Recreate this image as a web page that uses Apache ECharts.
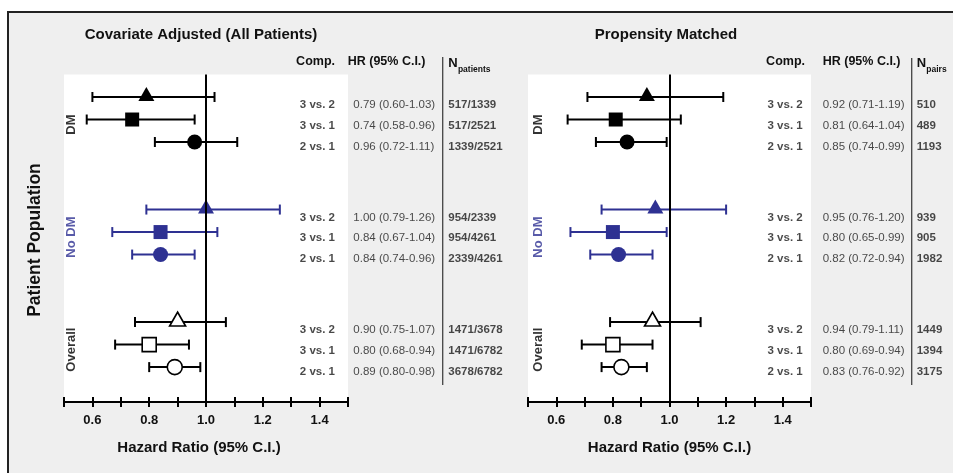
<!DOCTYPE html>
<html><head><meta charset="utf-8">
<script src="https://cdn.jsdelivr.net/npm/echarts@6/dist/echarts.min.js"></script>
<style>html,body{margin:0;padding:0;background:#fff}#c{width:953px;height:473px}</style>
</head><body><div id="c"></div>
<script>
// ---------------- data ----------------
const groups = ['DM', 'No DM', 'Overall'];
const comps = ['3 vs. 2', '3 vs. 1', '2 vs. 1'];
const xTickLabels = [0.6, 0.8, 1.0, 1.2, 1.4];

// Covariate Adjusted (All Patients): [HR, lower, upper] as plotted
const adjDM      = [[0.79, 0.60, 1.03], [0.74, 0.58, 0.96], [0.96, 0.82, 1.11]];
const adjNoDM    = [[1.00, 0.79, 1.26], [0.84, 0.67, 1.04], [0.84, 0.74, 0.96]];
const adjOverall = [[0.90, 0.75, 1.07], [0.80, 0.68, 0.94], [0.89, 0.80, 0.98]];
const adjHRText = ['0.79 (0.60-1.03)', '0.74 (0.58-0.96)', '0.96 (0.72-1.11)',
                   '1.00 (0.79-1.26)', '0.84 (0.67-1.04)', '0.84 (0.74-0.96)',
                   '0.90 (0.75-1.07)', '0.80 (0.68-0.94)', '0.89 (0.80-0.98)'];
const adjN = ['517/1339', '517/2521', '1339/2521',
              '954/2339', '954/4261', '2339/4261',
              '1471/3678', '1471/6782', '3678/6782'];

// Propensity Matched
const pmDM      = [[0.92, 0.71, 1.19], [0.81, 0.64, 1.04], [0.85, 0.74, 0.99]];
const pmNoDM    = [[0.95, 0.76, 1.20], [0.80, 0.65, 0.99], [0.82, 0.72, 0.94]];
const pmOverall = [[0.94, 0.79, 1.11], [0.80, 0.69, 0.94], [0.83, 0.76, 0.92]];
const pmHRText = ['0.92 (0.71-1.19)', '0.81 (0.64-1.04)', '0.85 (0.74-0.99)',
                  '0.95 (0.76-1.20)', '0.80 (0.65-0.99)', '0.82 (0.72-0.94)',
                  '0.94 (0.79-1.11)', '0.80 (0.69-0.94)', '0.83 (0.76-0.92)'];
const pmN = ['510', '489', '1193', '939', '905', '1982', '1449', '1394', '3175'];

// ---------------- styling / layout ----------------
const FONT = 'Liberation Sans, Arial, sans-serif';
const BLUE = '#2E3192';
const BLACK = '#000';
const groupColors = [BLACK, BLUE, BLACK];
const groupOpen = [false, false, true];
const symbols = ['triangle', 'rect', 'circle'];
const symSizes = [[16, 14], [14, 14], [15, 15]];
const symOffsets = [[0, -3], [0, 0], [0, 0]];
const textDy = [8, 6, 4.5];

const panels = [
  { title: 'Covariate Adjusted (All Patients)', titleX: 201, left: 64, width: 284,
    data: [adjDM, adjNoDM, adjOverall], hr: adjHRText, n: adjN, nSub: 'patients',
    compDx: -13, hrDx: 5.3, nDx: 100.3, sepX: 442.7, sepTop: 57,
    hCompX: 335, hHRX: 347.7, hNX: 448.3, gDx: 7.7, nameShift: 14 },
  { title: 'Propensity Matched', titleX: 666, left: 528, width: 283,
    data: [pmDM, pmNoDM, pmOverall], hr: pmHRText, n: pmN, nSub: 'pairs',
    compDx: -8.3, hrDx: 11.7, nDx: 105.7, sepX: 911.7, sepTop: 58,
    hCompX: 805, hHRX: 822.7, hNX: 916.7, gDx: 10.3, nameShift: 0 }
];
const GTOP = 74.5, GHEIGHT = 327.5, YMAX = 14.55, XMIN = 0.5, XMAX = 1.5;
const rowOf = (g, c) => g * 5 + c + 1;

const grid = [], xAxis = [], yAxis = [], series = [], graphic = [];

graphic.push({ type: 'rect', z: -100, shape: { x: 8, y: 12, width: 1000, height: 500 },
  style: { fill: '#efefef', stroke: '#222', lineWidth: 2 } });
graphic.push({ type: 'text', x: 35, y: 240, rotation: Math.PI / 2,
  style: { text: 'Patient Population', font: 'bold 17.5px ' + FONT, fill: '#111', align: 'center', verticalAlign: 'middle' } });

panels.forEach((p, pi) => {
  grid.push({ left: p.left, top: GTOP, width: p.width, height: GHEIGHT, show: true,
    backgroundColor: '#fff', borderWidth: 0, containLabel: false });
  xAxis.push({ type: 'value', gridIndex: pi, min: XMIN, max: XMAX, interval: 0.1, position: 'bottom',
    axisLine: { show: true, onZero: false, lineStyle: { color: BLACK, width: 2 } },
    axisTick: { show: true, inside: false, length: 5, lineStyle: { color: BLACK, width: 2 } },
    axisLabel: { show: true, margin: 12, fontFamily: FONT, fontWeight: 'bold', fontSize: 13, color: '#111',
      formatter: v => xTickLabels.some(t => Math.abs(t - v) < 1e-6) ? v.toFixed(1) : '' },
    splitLine: { show: false },
    name: 'Hazard Ratio (95% C.I.)', nameLocation: 'middle', nameGap: 38,
    nameTextStyle: { fontFamily: FONT, fontWeight: 'bold', fontSize: 15, color: '#111',
      padding: [0, p.nameShift, 0, 0] } });
  xAxis.push({ type: 'value', gridIndex: pi, min: XMIN, max: XMAX, interval: 0.1, position: 'bottom',
    axisLine: { show: false, onZero: false },
    axisTick: { show: true, inside: true, length: 5, lineStyle: { color: BLACK, width: 2 } },
    axisLabel: { show: false }, splitLine: { show: false } });
  yAxis.push({ type: 'value', gridIndex: pi, min: 0, max: YMAX, inverse: true, show: false });

  const xi = pi * 2;

  // error bars + markers per group
  p.data.forEach((rows, g) => {
    const color = groupColors[g];
    series.push({
      type: 'custom', xAxisIndex: xi, yAxisIndex: pi, silent: true, z: 2,
      data: rows.map((r, c) => [r[1], r[2], rowOf(g, c)]),
      encode: { x: [0, 1], y: 2 },
      renderItem: (params, api) => {
        const y = api.value(2);
        const a = api.coord([api.value(0), y]);
        const b = api.coord([api.value(1), y]);
        const h = 5;
        const st = { stroke: color, lineWidth: 2 };
        return { type: 'group', children: [
          { type: 'line', shape: { x1: a[0], y1: a[1], x2: b[0], y2: b[1] }, style: st },
          { type: 'line', shape: { x1: a[0], y1: a[1] - h, x2: a[0], y2: a[1] + h }, style: st },
          { type: 'line', shape: { x1: b[0], y1: b[1] - h, x2: b[0], y2: b[1] + h }, style: st }
        ] };
      }
    });
    series.push({
      type: 'scatter', xAxisIndex: xi, yAxisIndex: pi, silent: true, z: 3,
      itemStyle: { opacity: 1 },
      data: rows.map((r, c) => ({
        value: [r[0], rowOf(g, c)], symbol: symbols[c], symbolSize: symSizes[c], symbolOffset: symOffsets[c],
        itemStyle: groupOpen[g] ? { color: '#fff', borderColor: color, borderWidth: 1.6, opacity: 1 }
                                : { color: color, opacity: 1 }
      })),
      markLine: g === 0 ? { silent: true, symbol: ['none', 'none'], label: { show: false }, z: 5,
        lineStyle: { color: BLACK, width: 2, type: 'solid', opacity: 1 }, data: [{ xAxis: 1.0 }] } : undefined
    });
    // group label (rotated)
    series.push({
      type: 'scatter', xAxisIndex: xi, yAxisIndex: pi, silent: true, symbolSize: 0, z: 4,
      data: [[XMIN, rowOf(g, 1)]],
      label: { show: true, position: [p.gDx, 5], rotate: 90, align: 'center', verticalAlign: 'middle',
        formatter: () => groups[g], fontFamily: FONT, fontWeight: 'bold', fontSize: 13, color: color }
    });
  });

  // table text columns
  const rowsAll = [];
  for (let g = 0; g < 3; g++) for (let c = 0; c < 3; c++) rowsAll.push({ g, c, i: g * 3 + c });
  const mkText = (dx, align, weight, textFn) => ({
    type: 'scatter', xAxisIndex: xi, yAxisIndex: pi, silent: true, symbolSize: 0, z: 4,
    data: rowsAll.map(r => ({ value: [XMAX, rowOf(r.g, r.c)], t: textFn(r),
      label: { position: [dx, textDy[r.c]] } })),
    label: { show: true, align: align, verticalAlign: 'middle', formatter: q => q.data.t,
      fontFamily: FONT, fontWeight: weight, fontSize: 11.5, color: '#1a1a1a' }
  });
  series.push(mkText(p.compDx, 'right', 'bold', r => comps[r.c]));
  series.push(mkText(p.hrDx, 'left', 'normal', r => p.hr[r.i]));
  series.push(mkText(p.nDx, 'left', 'bold', r => p.n[r.i]));

  // titles / headers / separator
  graphic.push({ type: 'text', x: p.titleX, y: 35,
    style: { text: p.title, font: 'bold 15px ' + FONT, fill: '#111', align: 'center', verticalAlign: 'middle' } });
  graphic.push({ type: 'text', x: p.hCompX, y: 62,
    style: { text: 'Comp.', font: 'bold 12.5px ' + FONT, fill: '#111', align: 'right', verticalAlign: 'middle' } });
  graphic.push({ type: 'text', x: p.hHRX, y: 62,
    style: { text: 'HR (95% C.I.)', font: 'bold 12.5px ' + FONT, fill: '#111', align: 'left', verticalAlign: 'middle' } });
  graphic.push({ type: 'text', x: p.hNX, y: 63.5,
    style: { text: 'N', font: 'bold 13px ' + FONT, fill: '#111', align: 'left', verticalAlign: 'middle' } });
  graphic.push({ type: 'text', x: p.hNX + 9.6, y: 69.5,
    style: { text: p.nSub, font: 'bold 8.5px ' + FONT, fill: '#111', align: 'left', verticalAlign: 'middle' } });
  graphic.push({ type: 'line', shape: { x1: p.sepX, y1: p.sepTop, x2: p.sepX, y2: 385 },
    style: { stroke: '#444', lineWidth: 1.3 } });
});

const chart = echarts.init(document.getElementById('c'), null, { renderer: 'canvas' });
chart.setOption({ animation: false, backgroundColor: '#fff', grid, xAxis, yAxis, series, graphic });
</script></body></html>
